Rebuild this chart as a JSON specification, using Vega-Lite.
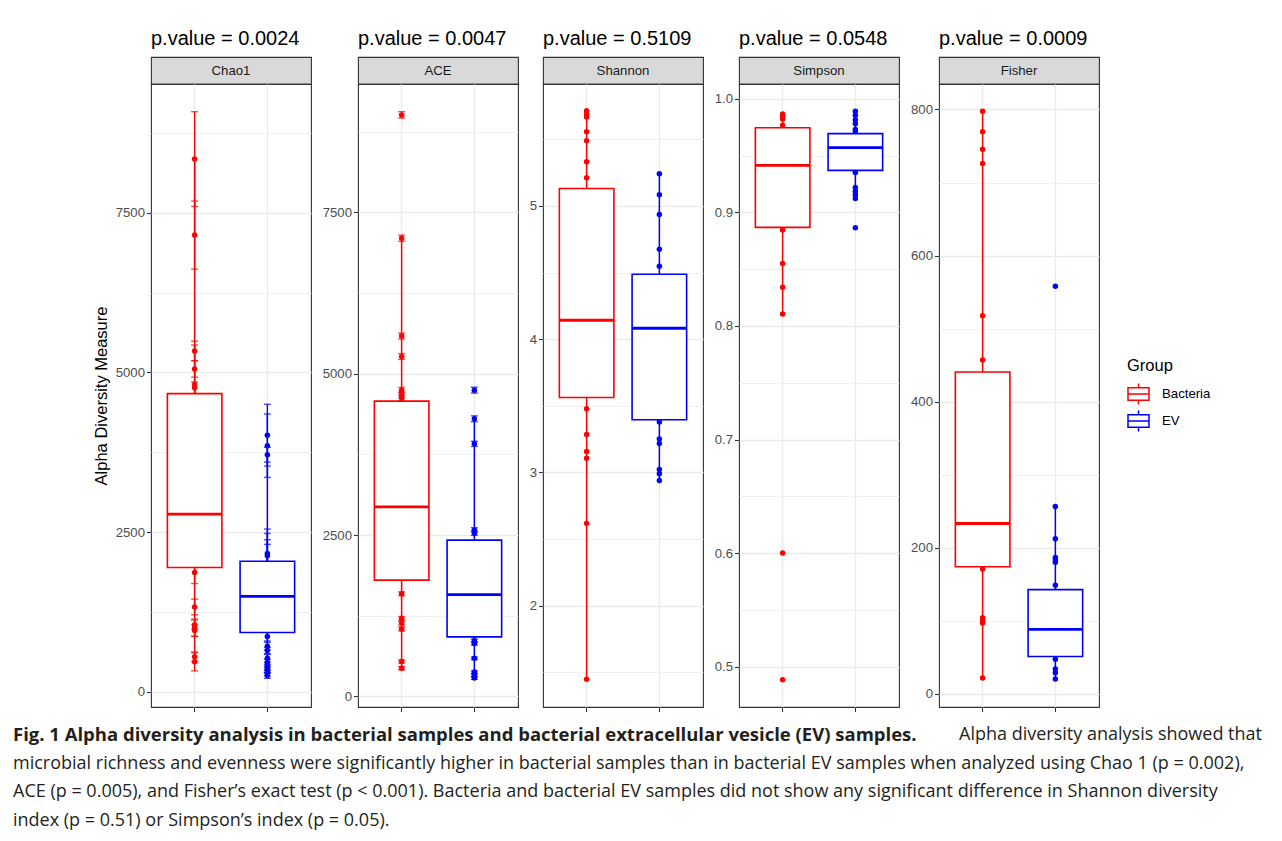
{
 "$schema": "https://vega.github.io/schema/vega-lite/v6.json",
 "padding": {"left": 13, "top": 28, "right": 5, "bottom": 5},
 "background": "#ffffff",
 "config": {
  "font": "Liberation Sans",
  "view": {"stroke": null},
  "axis": {"grid": true, "gridColor": "#ebebeb", "gridWidth": 1.4, "domain": false, "tickColor": "#333333", "tickSize": 4.5, "tickWidth": 1.1, "labelFont": "Liberation Sans", "labelFontSize": 13.2, "labelColor": "#4d4d4d", "labelPadding": 2, "labelFlush": false, "labelOverlap": false, "titleFont": "Liberation Sans", "titleFontSize": 16.5, "titleFontWeight": "normal", "titleColor": "#000000"},
  "title": {"font": "Liberation Sans", "fontSize": 20, "fontWeight": "normal", "color": "#000000", "anchor": "start", "offset": 8}
 },
 "datasets": {
  "panels": [{"index": "Chao1"}, {"index": "ACE"}, {"index": "Shannon"}, {"index": "Simpson"}, {"index": "Fisher"}],
  "box": [
   {"index": "Chao1", "group": "Bacteria", "q1": 1948, "median": 2782, "q3": 4669, "lo": 472, "hi": 8339},
   {"index": "Chao1", "group": "EV", "q1": 931, "median": 1495, "q3": 2046, "lo": 257, "hi": 3713},
   {"index": "ACE", "group": "Bacteria", "q1": 1802, "median": 2937, "q3": 4575, "lo": 437, "hi": 7100},
   {"index": "ACE", "group": "EV", "q1": 922, "median": 1578, "q3": 2421, "lo": 285, "hi": 4302},
   {"index": "Shannon", "group": "Bacteria", "q1": 3.563, "median": 4.142, "q3": 5.131, "lo": 1.449, "hi": 5.714},
   {"index": "Shannon", "group": "EV", "q1": 3.395, "median": 4.082, "q3": 4.487, "lo": 2.94, "hi": 5.241},
   {"index": "Simpson", "group": "Bacteria", "q1": 0.8868, "median": 0.9414, "q3": 0.9745, "lo": 0.8105, "hi": 0.9866},
   {"index": "Simpson", "group": "EV", "q1": 0.937, "median": 0.957, "q3": 0.9693, "lo": 0.9123, "hi": 0.989},
   {"index": "Fisher", "group": "Bacteria", "q1": 173.7, "median": 233, "q3": 440.4, "lo": 21.4, "hi": 797.6},
   {"index": "Fisher", "group": "EV", "q1": 50.8, "median": 88.1, "q3": 142.5, "lo": 20.2, "hi": 256.3}
  ],
  "pts": [
   {"index": "Chao1", "group": "Bacteria", "value": 8339, "se": 741},
   {"index": "Chao1", "group": "Bacteria", "value": 7150, "se": 533},
   {"index": "Chao1", "group": "Bacteria", "value": 5337, "se": 153},
   {"index": "Chao1", "group": "Bacteria", "value": 5055, "se": 129},
   {"index": "Chao1", "group": "Bacteria", "value": 4810, "se": 619},
   {"index": "Chao1", "group": "Bacteria", "value": 4761, "se": 90},
   {"index": "Chao1", "group": "Bacteria", "value": 1869, "se": 172},
   {"index": "Chao1", "group": "Bacteria", "value": 1330, "se": 122},
   {"index": "Chao1", "group": "Bacteria", "value": 1054, "se": 73},
   {"index": "Chao1", "group": "Bacteria", "value": 1005, "se": 135},
   {"index": "Chao1", "group": "Bacteria", "value": 962, "se": 90},
   {"index": "Chao1", "group": "Bacteria", "value": 551, "se": 74},
   {"index": "Chao1", "group": "Bacteria", "value": 472, "se": 142},
   {"index": "Chao1", "group": "EV", "value": 4019, "se": 484},
   {"index": "Chao1", "group": "EV", "value": 3854, "se": 496},
   {"index": "Chao1", "group": "EV", "value": 3713, "se": 116},
   {"index": "Chao1", "group": "EV", "value": 2169, "se": 380},
   {"index": "Chao1", "group": "EV", "value": 2132, "se": 349},
   {"index": "Chao1", "group": "EV", "value": 1900, "se": 483},
   {"index": "Chao1", "group": "EV", "value": 1800, "se": 510},
   {"index": "Chao1", "group": "EV", "value": 870, "se": 73},
   {"index": "Chao1", "group": "EV", "value": 717, "se": 60},
   {"index": "Chao1", "group": "EV", "value": 649, "se": 49},
   {"index": "Chao1", "group": "EV", "value": 527, "se": 60},
   {"index": "Chao1", "group": "EV", "value": 460, "se": 50},
   {"index": "Chao1", "group": "EV", "value": 392, "se": 40},
   {"index": "Chao1", "group": "EV", "value": 343, "se": 40},
   {"index": "Chao1", "group": "EV", "value": 294, "se": 40},
   {"index": "Chao1", "group": "EV", "value": 257, "se": 43},
   {"index": "ACE", "group": "Bacteria", "value": 9011, "se": 50},
   {"index": "ACE", "group": "Bacteria", "value": 7100, "se": 48},
   {"index": "ACE", "group": "Bacteria", "value": 5583, "se": 45},
   {"index": "ACE", "group": "Bacteria", "value": 5267, "se": 45},
   {"index": "ACE", "group": "Bacteria", "value": 4745, "se": 42},
   {"index": "ACE", "group": "Bacteria", "value": 4672, "se": 42},
   {"index": "ACE", "group": "Bacteria", "value": 4624, "se": 40},
   {"index": "ACE", "group": "Bacteria", "value": 1590, "se": 30},
   {"index": "ACE", "group": "Bacteria", "value": 1208, "se": 30},
   {"index": "ACE", "group": "Bacteria", "value": 1135, "se": 30},
   {"index": "ACE", "group": "Bacteria", "value": 1044, "se": 30},
   {"index": "ACE", "group": "Bacteria", "value": 540, "se": 25},
   {"index": "ACE", "group": "Bacteria", "value": 437, "se": 25},
   {"index": "ACE", "group": "EV", "value": 4745, "se": 45},
   {"index": "ACE", "group": "EV", "value": 4302, "se": 45},
   {"index": "ACE", "group": "EV", "value": 3914, "se": 40},
   {"index": "ACE", "group": "EV", "value": 2579, "se": 35},
   {"index": "ACE", "group": "EV", "value": 2530, "se": 35},
   {"index": "ACE", "group": "EV", "value": 862, "se": 25},
   {"index": "ACE", "group": "EV", "value": 819, "se": 25},
   {"index": "ACE", "group": "EV", "value": 589, "se": 20},
   {"index": "ACE", "group": "EV", "value": 376, "se": 20},
   {"index": "ACE", "group": "EV", "value": 328, "se": 20},
   {"index": "ACE", "group": "EV", "value": 285, "se": 20},
   {"index": "Shannon", "group": "Bacteria", "value": 5.714},
   {"index": "Shannon", "group": "Bacteria", "value": 5.69},
   {"index": "Shannon", "group": "Bacteria", "value": 5.667},
   {"index": "Shannon", "group": "Bacteria", "value": 5.556},
   {"index": "Shannon", "group": "Bacteria", "value": 5.489},
   {"index": "Shannon", "group": "Bacteria", "value": 5.332},
   {"index": "Shannon", "group": "Bacteria", "value": 5.211},
   {"index": "Shannon", "group": "Bacteria", "value": 3.479},
   {"index": "Shannon", "group": "Bacteria", "value": 3.285},
   {"index": "Shannon", "group": "Bacteria", "value": 3.157},
   {"index": "Shannon", "group": "Bacteria", "value": 3.107},
   {"index": "Shannon", "group": "Bacteria", "value": 2.618},
   {"index": "Shannon", "group": "Bacteria", "value": 1.449},
   {"index": "Shannon", "group": "EV", "value": 5.241},
   {"index": "Shannon", "group": "EV", "value": 5.084},
   {"index": "Shannon", "group": "EV", "value": 4.936},
   {"index": "Shannon", "group": "EV", "value": 4.675},
   {"index": "Shannon", "group": "EV", "value": 4.548},
   {"index": "Shannon", "group": "EV", "value": 3.379},
   {"index": "Shannon", "group": "EV", "value": 3.251},
   {"index": "Shannon", "group": "EV", "value": 3.218},
   {"index": "Shannon", "group": "EV", "value": 3.023},
   {"index": "Shannon", "group": "EV", "value": 2.99},
   {"index": "Shannon", "group": "EV", "value": 2.94},
   {"index": "Simpson", "group": "Bacteria", "value": 0.9866},
   {"index": "Simpson", "group": "Bacteria", "value": 0.9847},
   {"index": "Simpson", "group": "Bacteria", "value": 0.9823},
   {"index": "Simpson", "group": "Bacteria", "value": 0.9768},
   {"index": "Simpson", "group": "Bacteria", "value": 0.8844},
   {"index": "Simpson", "group": "Bacteria", "value": 0.855},
   {"index": "Simpson", "group": "Bacteria", "value": 0.834},
   {"index": "Simpson", "group": "Bacteria", "value": 0.8105},
   {"index": "Simpson", "group": "Bacteria", "value": 0.6002},
   {"index": "Simpson", "group": "Bacteria", "value": 0.4886},
   {"index": "Simpson", "group": "EV", "value": 0.989},
   {"index": "Simpson", "group": "EV", "value": 0.9855},
   {"index": "Simpson", "group": "EV", "value": 0.9815},
   {"index": "Simpson", "group": "EV", "value": 0.978},
   {"index": "Simpson", "group": "EV", "value": 0.973},
   {"index": "Simpson", "group": "EV", "value": 0.971},
   {"index": "Simpson", "group": "EV", "value": 0.935},
   {"index": "Simpson", "group": "EV", "value": 0.9218},
   {"index": "Simpson", "group": "EV", "value": 0.9186},
   {"index": "Simpson", "group": "EV", "value": 0.9155},
   {"index": "Simpson", "group": "EV", "value": 0.9123},
   {"index": "Simpson", "group": "EV", "value": 0.8864},
   {"index": "Fisher", "group": "Bacteria", "value": 797.6},
   {"index": "Fisher", "group": "Bacteria", "value": 769.4},
   {"index": "Fisher", "group": "Bacteria", "value": 745.6},
   {"index": "Fisher", "group": "Bacteria", "value": 726},
   {"index": "Fisher", "group": "Bacteria", "value": 517.4},
   {"index": "Fisher", "group": "Bacteria", "value": 456.9},
   {"index": "Fisher", "group": "Bacteria", "value": 170.6},
   {"index": "Fisher", "group": "Bacteria", "value": 104},
   {"index": "Fisher", "group": "Bacteria", "value": 100.3},
   {"index": "Fisher", "group": "Bacteria", "value": 96.6},
   {"index": "Fisher", "group": "Bacteria", "value": 21.4},
   {"index": "Fisher", "group": "EV", "value": 557.8},
   {"index": "Fisher", "group": "EV", "value": 256.3},
   {"index": "Fisher", "group": "EV", "value": 212.2},
   {"index": "Fisher", "group": "EV", "value": 186.5},
   {"index": "Fisher", "group": "EV", "value": 182.9},
   {"index": "Fisher", "group": "EV", "value": 179.8},
   {"index": "Fisher", "group": "EV", "value": 148.6},
   {"index": "Fisher", "group": "EV", "value": 47.1},
   {"index": "Fisher", "group": "EV", "value": 33.6},
   {"index": "Fisher", "group": "EV", "value": 28.7},
   {"index": "Fisher", "group": "EV", "value": 20.2}
  ],
  "caption": [
   {"line": 1, "part": "lead", "text": "Fig. 1 Alpha diversity analysis in bacterial samples and bacterial extracellular vesicle (EV) samples."},
   {"line": 1, "part": "tail", "text": "Alpha diversity analysis showed that"},
   {"line": 2, "part": "body", "text": "microbial richness and evenness were significantly higher in bacterial samples than in bacterial EV samples when analyzed using Chao 1 (p = 0.002),"},
   {"line": 3, "part": "body", "text": "ACE (p = 0.005), and Fisher’s exact test (p < 0.001). Bacteria and bacterial EV samples did not show any significant difference in Shannon diversity"},
   {"line": 4, "part": "body", "text": "index (p = 0.51) or Simpson’s index (p = 0.05)."}
  ]
 },
 "spacing": 8,
 "vconcat": [
  {
   "spacing": 9,
   "hconcat": [
    {"width": 70, "height": 10, "data": {"values": []}, "mark": {"type": "point"}},
    {
     "bounds": "flush", "spacing": 0,
     "vconcat": [
      {"width": 160, "height": 27, "title": {"text": "p.value = 0.0024"}, "view": {"fill": "#d9d9d9", "stroke": "#333333", "strokeWidth": 1.1}, "data": {"name": "panels"}, "transform": [{"filter": "datum.index === 'Chao1'"}], "mark": {"type": "text", "fontSize": 13.2, "color": "#1a1a1a", "font": "Liberation Sans"}, "encoding": {"text": {"field": "index", "type": "nominal"}}},
      {"width": 160, "height": 623, "view": {"stroke": "#333333", "strokeWidth": 1.1},
       "encoding": {"x": {"field": "group", "type": "nominal", "scale": {"type": "band", "domain": ["Bacteria", "EV"], "paddingInner": 0.25, "paddingOuter": 0.225}, "axis": {"title": null, "labels": false, "ticks": true, "grid": true, "domain": false, "orient": "bottom"}}},
       "layer": [
        {"data": {"name": "box"}, "transform": [{"filter": "datum.index === 'Chao1'"}], "mark": {"type": "rule", "strokeWidth": 1.5},
         "encoding": {"y": {"field": "lo", "type": "quantitative", "scale": {"domain": [-235, 9514], "nice": false, "zero": false}, "axis": {"title": "Alpha Diversity Measure", "titlePadding": 6, "values": [0, 1250, 2500, 3750, 5000, 6250, 7500, 8750], "format": "d", "labelExpr": "datum.value % 2500 === 0 ? datum.label : ''", "gridWidth": {"condition": {"test": "datum.value % 2500 !== 0", "value": 0.7}, "value": 1.4}, "tickOpacity": {"condition": {"test": "datum.value % 2500 !== 0", "value": 0}, "value": 1}}},
          "y2": {"field": "hi"},
          "stroke": {"field": "group", "type": "nominal", "scale": {"domain": ["Bacteria", "EV"], "range": ["#ff0000", "#0000ff"]}, "legend": {"title": "Group", "orient": "none", "legendX": 1114, "legendY": 301, "symbolType": "M-1,-0.6H1V0.6H-1Z M-1,0H1 M0,-0.6V-1 M0,0.6V1", "symbolSize": 441, "symbolStrokeWidth": 1.5, "symbolFillColor": "#ffffff", "labelFont": "Liberation Sans", "labelFontSize": 13.2, "labelColor": "#000000", "labelOffset": 12, "titleFont": "Liberation Sans", "titleFontSize": 16.5, "titleFontWeight": "normal", "titleColor": "#000000", "titlePadding": 8, "rowPadding": 0, "padding": 0}}}},
        {"data": {"name": "pts"}, "transform": [{"filter": "datum.index === 'Chao1' && datum.group === 'Bacteria'"}], "mark": {"type": "errorbar", "ticks": {"size": 7}, "thickness": 1.4, "color": "#ff0000"},
         "encoding": {"y": {"field": "value", "type": "quantitative", "scale": {"domain": [-235, 9514], "nice": false, "zero": false}, "axis": {"title": "Alpha Diversity Measure", "titlePadding": 6, "values": [0, 1250, 2500, 3750, 5000, 6250, 7500, 8750], "format": "d", "labelExpr": "datum.value % 2500 === 0 ? datum.label : ''", "gridWidth": {"condition": {"test": "datum.value % 2500 !== 0", "value": 0.7}, "value": 1.4}, "tickOpacity": {"condition": {"test": "datum.value % 2500 !== 0", "value": 0}, "value": 1}}}, "yError": {"field": "se"}}},
        {"data": {"name": "pts"}, "transform": [{"filter": "datum.index === 'Chao1' && datum.group === 'EV'"}], "mark": {"type": "errorbar", "ticks": {"size": 7}, "thickness": 1.4, "color": "#0000ff"},
         "encoding": {"y": {"field": "value", "type": "quantitative", "scale": {"domain": [-235, 9514], "nice": false, "zero": false}, "axis": {"title": "Alpha Diversity Measure", "titlePadding": 6, "values": [0, 1250, 2500, 3750, 5000, 6250, 7500, 8750], "format": "d", "labelExpr": "datum.value % 2500 === 0 ? datum.label : ''", "gridWidth": {"condition": {"test": "datum.value % 2500 !== 0", "value": 0.7}, "value": 1.4}, "tickOpacity": {"condition": {"test": "datum.value % 2500 !== 0", "value": 0}, "value": 1}}}, "yError": {"field": "se"}}},
        {"data": {"name": "pts"}, "transform": [{"filter": "datum.index === 'Chao1' && datum.group === 'Bacteria'"}], "mark": {"type": "circle", "size": 30, "opacity": 1, "color": "#ff0000"},
         "encoding": {"y": {"field": "value", "type": "quantitative", "scale": {"domain": [-235, 9514], "nice": false, "zero": false}, "axis": {"title": "Alpha Diversity Measure", "titlePadding": 6, "values": [0, 1250, 2500, 3750, 5000, 6250, 7500, 8750], "format": "d", "labelExpr": "datum.value % 2500 === 0 ? datum.label : ''", "gridWidth": {"condition": {"test": "datum.value % 2500 !== 0", "value": 0.7}, "value": 1.4}, "tickOpacity": {"condition": {"test": "datum.value % 2500 !== 0", "value": 0}, "value": 1}}}}},
        {"data": {"name": "pts"}, "transform": [{"filter": "datum.index === 'Chao1' && datum.group === 'EV'"}], "mark": {"type": "circle", "size": 30, "opacity": 1, "color": "#0000ff"},
         "encoding": {"y": {"field": "value", "type": "quantitative", "scale": {"domain": [-235, 9514], "nice": false, "zero": false}, "axis": {"title": "Alpha Diversity Measure", "titlePadding": 6, "values": [0, 1250, 2500, 3750, 5000, 6250, 7500, 8750], "format": "d", "labelExpr": "datum.value % 2500 === 0 ? datum.label : ''", "gridWidth": {"condition": {"test": "datum.value % 2500 !== 0", "value": 0.7}, "value": 1.4}, "tickOpacity": {"condition": {"test": "datum.value % 2500 !== 0", "value": 0}, "value": 1}}}}},
        {"data": {"name": "box"}, "transform": [{"filter": "datum.index === 'Chao1'"}], "mark": {"type": "bar", "fill": "#ffffff", "strokeWidth": 1.6},
         "encoding": {"y": {"field": "q3", "type": "quantitative", "scale": {"domain": [-235, 9514], "nice": false, "zero": false}, "axis": {"title": "Alpha Diversity Measure", "titlePadding": 6, "values": [0, 1250, 2500, 3750, 5000, 6250, 7500, 8750], "format": "d", "labelExpr": "datum.value % 2500 === 0 ? datum.label : ''", "gridWidth": {"condition": {"test": "datum.value % 2500 !== 0", "value": 0.7}, "value": 1.4}, "tickOpacity": {"condition": {"test": "datum.value % 2500 !== 0", "value": 0}, "value": 1}}},
          "y2": {"field": "q1"},
          "stroke": {"field": "group", "type": "nominal", "scale": {"domain": ["Bacteria", "EV"], "range": ["#ff0000", "#0000ff"]}, "legend": null}}},
        {"data": {"name": "box"}, "transform": [{"filter": "datum.index === 'Chao1'"}], "mark": {"type": "bar", "fill": "#ffffff", "strokeWidth": 2.8},
         "encoding": {"y": {"field": "median", "type": "quantitative", "scale": {"domain": [-235, 9514], "nice": false, "zero": false}, "axis": {"title": "Alpha Diversity Measure", "titlePadding": 6, "values": [0, 1250, 2500, 3750, 5000, 6250, 7500, 8750], "format": "d", "labelExpr": "datum.value % 2500 === 0 ? datum.label : ''", "gridWidth": {"condition": {"test": "datum.value % 2500 !== 0", "value": 0.7}, "value": 1.4}, "tickOpacity": {"condition": {"test": "datum.value % 2500 !== 0", "value": 0}, "value": 1}}},
          "y2": {"field": "median"},
          "stroke": {"field": "group", "type": "nominal", "scale": {"domain": ["Bacteria", "EV"], "range": ["#ff0000", "#0000ff"]}, "legend": null}}}
       ]}
     ]
    },
    {
     "bounds": "flush", "spacing": 0,
     "vconcat": [
      {"width": 160, "height": 27, "title": {"text": "p.value = 0.0047"}, "view": {"fill": "#d9d9d9", "stroke": "#333333", "strokeWidth": 1.1}, "data": {"name": "panels"}, "transform": [{"filter": "datum.index === 'ACE'"}], "mark": {"type": "text", "fontSize": 13.2, "color": "#1a1a1a", "font": "Liberation Sans"}, "encoding": {"text": {"field": "index", "type": "nominal"}}},
      {"width": 160, "height": 623, "view": {"stroke": "#333333", "strokeWidth": 1.1},
       "encoding": {"x": {"field": "group", "type": "nominal", "scale": {"type": "band", "domain": ["Bacteria", "EV"], "paddingInner": 0.25, "paddingOuter": 0.225}, "axis": {"title": null, "labels": false, "ticks": true, "grid": true, "domain": false, "orient": "bottom"}}},
       "layer": [
        {"data": {"name": "box"}, "transform": [{"filter": "datum.index === 'ACE'"}], "mark": {"type": "rule", "strokeWidth": 1.5},
         "encoding": {"y": {"field": "lo", "type": "quantitative", "scale": {"domain": [-165, 9490], "nice": false, "zero": false}, "axis": {"title": null, "values": [0, 1250, 2500, 3750, 5000, 6250, 7500, 8750], "format": "d", "labelExpr": "datum.value % 2500 === 0 ? datum.label : ''", "gridWidth": {"condition": {"test": "datum.value % 2500 !== 0", "value": 0.7}, "value": 1.4}, "tickOpacity": {"condition": {"test": "datum.value % 2500 !== 0", "value": 0}, "value": 1}}},
          "y2": {"field": "hi"},
          "stroke": {"field": "group", "type": "nominal", "scale": {"domain": ["Bacteria", "EV"], "range": ["#ff0000", "#0000ff"]}, "legend": {"title": "Group", "orient": "none", "legendX": 1114, "legendY": 301, "symbolType": "M-1,-0.6H1V0.6H-1Z M-1,0H1 M0,-0.6V-1 M0,0.6V1", "symbolSize": 441, "symbolStrokeWidth": 1.5, "symbolFillColor": "#ffffff", "labelFont": "Liberation Sans", "labelFontSize": 13.2, "labelColor": "#000000", "labelOffset": 12, "titleFont": "Liberation Sans", "titleFontSize": 16.5, "titleFontWeight": "normal", "titleColor": "#000000", "titlePadding": 8, "rowPadding": 0, "padding": 0}}}},
        {"data": {"name": "pts"}, "transform": [{"filter": "datum.index === 'ACE' && datum.group === 'Bacteria'"}], "mark": {"type": "errorbar", "ticks": {"size": 7}, "thickness": 1.4, "color": "#ff0000"},
         "encoding": {"y": {"field": "value", "type": "quantitative", "scale": {"domain": [-165, 9490], "nice": false, "zero": false}, "axis": {"title": null, "values": [0, 1250, 2500, 3750, 5000, 6250, 7500, 8750], "format": "d", "labelExpr": "datum.value % 2500 === 0 ? datum.label : ''", "gridWidth": {"condition": {"test": "datum.value % 2500 !== 0", "value": 0.7}, "value": 1.4}, "tickOpacity": {"condition": {"test": "datum.value % 2500 !== 0", "value": 0}, "value": 1}}}, "yError": {"field": "se"}}},
        {"data": {"name": "pts"}, "transform": [{"filter": "datum.index === 'ACE' && datum.group === 'EV'"}], "mark": {"type": "errorbar", "ticks": {"size": 7}, "thickness": 1.4, "color": "#0000ff"},
         "encoding": {"y": {"field": "value", "type": "quantitative", "scale": {"domain": [-165, 9490], "nice": false, "zero": false}, "axis": {"title": null, "values": [0, 1250, 2500, 3750, 5000, 6250, 7500, 8750], "format": "d", "labelExpr": "datum.value % 2500 === 0 ? datum.label : ''", "gridWidth": {"condition": {"test": "datum.value % 2500 !== 0", "value": 0.7}, "value": 1.4}, "tickOpacity": {"condition": {"test": "datum.value % 2500 !== 0", "value": 0}, "value": 1}}}, "yError": {"field": "se"}}},
        {"data": {"name": "pts"}, "transform": [{"filter": "datum.index === 'ACE' && datum.group === 'Bacteria'"}], "mark": {"type": "circle", "size": 30, "opacity": 1, "color": "#ff0000"},
         "encoding": {"y": {"field": "value", "type": "quantitative", "scale": {"domain": [-165, 9490], "nice": false, "zero": false}, "axis": {"title": null, "values": [0, 1250, 2500, 3750, 5000, 6250, 7500, 8750], "format": "d", "labelExpr": "datum.value % 2500 === 0 ? datum.label : ''", "gridWidth": {"condition": {"test": "datum.value % 2500 !== 0", "value": 0.7}, "value": 1.4}, "tickOpacity": {"condition": {"test": "datum.value % 2500 !== 0", "value": 0}, "value": 1}}}}},
        {"data": {"name": "pts"}, "transform": [{"filter": "datum.index === 'ACE' && datum.group === 'EV'"}], "mark": {"type": "circle", "size": 30, "opacity": 1, "color": "#0000ff"},
         "encoding": {"y": {"field": "value", "type": "quantitative", "scale": {"domain": [-165, 9490], "nice": false, "zero": false}, "axis": {"title": null, "values": [0, 1250, 2500, 3750, 5000, 6250, 7500, 8750], "format": "d", "labelExpr": "datum.value % 2500 === 0 ? datum.label : ''", "gridWidth": {"condition": {"test": "datum.value % 2500 !== 0", "value": 0.7}, "value": 1.4}, "tickOpacity": {"condition": {"test": "datum.value % 2500 !== 0", "value": 0}, "value": 1}}}}},
        {"data": {"name": "box"}, "transform": [{"filter": "datum.index === 'ACE'"}], "mark": {"type": "bar", "fill": "#ffffff", "strokeWidth": 1.6},
         "encoding": {"y": {"field": "q3", "type": "quantitative", "scale": {"domain": [-165, 9490], "nice": false, "zero": false}, "axis": {"title": null, "values": [0, 1250, 2500, 3750, 5000, 6250, 7500, 8750], "format": "d", "labelExpr": "datum.value % 2500 === 0 ? datum.label : ''", "gridWidth": {"condition": {"test": "datum.value % 2500 !== 0", "value": 0.7}, "value": 1.4}, "tickOpacity": {"condition": {"test": "datum.value % 2500 !== 0", "value": 0}, "value": 1}}},
          "y2": {"field": "q1"},
          "stroke": {"field": "group", "type": "nominal", "scale": {"domain": ["Bacteria", "EV"], "range": ["#ff0000", "#0000ff"]}, "legend": null}}},
        {"data": {"name": "box"}, "transform": [{"filter": "datum.index === 'ACE'"}], "mark": {"type": "bar", "fill": "#ffffff", "strokeWidth": 2.8},
         "encoding": {"y": {"field": "median", "type": "quantitative", "scale": {"domain": [-165, 9490], "nice": false, "zero": false}, "axis": {"title": null, "values": [0, 1250, 2500, 3750, 5000, 6250, 7500, 8750], "format": "d", "labelExpr": "datum.value % 2500 === 0 ? datum.label : ''", "gridWidth": {"condition": {"test": "datum.value % 2500 !== 0", "value": 0.7}, "value": 1.4}, "tickOpacity": {"condition": {"test": "datum.value % 2500 !== 0", "value": 0}, "value": 1}}},
          "y2": {"field": "median"},
          "stroke": {"field": "group", "type": "nominal", "scale": {"domain": ["Bacteria", "EV"], "range": ["#ff0000", "#0000ff"]}, "legend": null}}}
       ]}
     ]
    },
    {
     "bounds": "flush", "spacing": 0,
     "vconcat": [
      {"width": 160, "height": 27, "title": {"text": "p.value = 0.5109"}, "view": {"fill": "#d9d9d9", "stroke": "#333333", "strokeWidth": 1.1}, "data": {"name": "panels"}, "transform": [{"filter": "datum.index === 'Shannon'"}], "mark": {"type": "text", "fontSize": 13.2, "color": "#1a1a1a", "font": "Liberation Sans"}, "encoding": {"text": {"field": "index", "type": "nominal"}}},
      {"width": 160, "height": 623, "view": {"stroke": "#333333", "strokeWidth": 1.1},
       "encoding": {"x": {"field": "group", "type": "nominal", "scale": {"type": "band", "domain": ["Bacteria", "EV"], "paddingInner": 0.25, "paddingOuter": 0.225}, "axis": {"title": null, "labels": false, "ticks": true, "grid": true, "domain": false, "orient": "bottom"}}},
       "layer": [
        {"data": {"name": "box"}, "transform": [{"filter": "datum.index === 'Shannon'"}], "mark": {"type": "rule", "strokeWidth": 1.5},
         "encoding": {"y": {"field": "lo", "type": "quantitative", "scale": {"domain": [1.24, 5.915], "nice": false, "zero": false}, "axis": {"title": null, "values": [1.5, 2, 2.5, 3, 3.5, 4, 4.5, 5, 5.5], "format": ".0f", "labelExpr": "datum.value % 1 === 0 ? datum.label : ''", "gridWidth": {"condition": {"test": "datum.value % 1 !== 0", "value": 0.7}, "value": 1.4}, "tickOpacity": {"condition": {"test": "datum.value % 1 !== 0", "value": 0}, "value": 1}}},
          "y2": {"field": "hi"},
          "stroke": {"field": "group", "type": "nominal", "scale": {"domain": ["Bacteria", "EV"], "range": ["#ff0000", "#0000ff"]}, "legend": {"title": "Group", "orient": "none", "legendX": 1114, "legendY": 301, "symbolType": "M-1,-0.6H1V0.6H-1Z M-1,0H1 M0,-0.6V-1 M0,0.6V1", "symbolSize": 441, "symbolStrokeWidth": 1.5, "symbolFillColor": "#ffffff", "labelFont": "Liberation Sans", "labelFontSize": 13.2, "labelColor": "#000000", "labelOffset": 12, "titleFont": "Liberation Sans", "titleFontSize": 16.5, "titleFontWeight": "normal", "titleColor": "#000000", "titlePadding": 8, "rowPadding": 0, "padding": 0}}}},
        {"data": {"name": "pts"}, "transform": [{"filter": "datum.index === 'Shannon' && datum.group === 'Bacteria'"}], "mark": {"type": "circle", "size": 30, "opacity": 1, "color": "#ff0000"},
         "encoding": {"y": {"field": "value", "type": "quantitative", "scale": {"domain": [1.24, 5.915], "nice": false, "zero": false}, "axis": {"title": null, "values": [1.5, 2, 2.5, 3, 3.5, 4, 4.5, 5, 5.5], "format": ".0f", "labelExpr": "datum.value % 1 === 0 ? datum.label : ''", "gridWidth": {"condition": {"test": "datum.value % 1 !== 0", "value": 0.7}, "value": 1.4}, "tickOpacity": {"condition": {"test": "datum.value % 1 !== 0", "value": 0}, "value": 1}}}}},
        {"data": {"name": "pts"}, "transform": [{"filter": "datum.index === 'Shannon' && datum.group === 'EV'"}], "mark": {"type": "circle", "size": 30, "opacity": 1, "color": "#0000ff"},
         "encoding": {"y": {"field": "value", "type": "quantitative", "scale": {"domain": [1.24, 5.915], "nice": false, "zero": false}, "axis": {"title": null, "values": [1.5, 2, 2.5, 3, 3.5, 4, 4.5, 5, 5.5], "format": ".0f", "labelExpr": "datum.value % 1 === 0 ? datum.label : ''", "gridWidth": {"condition": {"test": "datum.value % 1 !== 0", "value": 0.7}, "value": 1.4}, "tickOpacity": {"condition": {"test": "datum.value % 1 !== 0", "value": 0}, "value": 1}}}}},
        {"data": {"name": "box"}, "transform": [{"filter": "datum.index === 'Shannon'"}], "mark": {"type": "bar", "fill": "#ffffff", "strokeWidth": 1.6},
         "encoding": {"y": {"field": "q3", "type": "quantitative", "scale": {"domain": [1.24, 5.915], "nice": false, "zero": false}, "axis": {"title": null, "values": [1.5, 2, 2.5, 3, 3.5, 4, 4.5, 5, 5.5], "format": ".0f", "labelExpr": "datum.value % 1 === 0 ? datum.label : ''", "gridWidth": {"condition": {"test": "datum.value % 1 !== 0", "value": 0.7}, "value": 1.4}, "tickOpacity": {"condition": {"test": "datum.value % 1 !== 0", "value": 0}, "value": 1}}},
          "y2": {"field": "q1"},
          "stroke": {"field": "group", "type": "nominal", "scale": {"domain": ["Bacteria", "EV"], "range": ["#ff0000", "#0000ff"]}, "legend": null}}},
        {"data": {"name": "box"}, "transform": [{"filter": "datum.index === 'Shannon'"}], "mark": {"type": "bar", "fill": "#ffffff", "strokeWidth": 2.8},
         "encoding": {"y": {"field": "median", "type": "quantitative", "scale": {"domain": [1.24, 5.915], "nice": false, "zero": false}, "axis": {"title": null, "values": [1.5, 2, 2.5, 3, 3.5, 4, 4.5, 5, 5.5], "format": ".0f", "labelExpr": "datum.value % 1 === 0 ? datum.label : ''", "gridWidth": {"condition": {"test": "datum.value % 1 !== 0", "value": 0.7}, "value": 1.4}, "tickOpacity": {"condition": {"test": "datum.value % 1 !== 0", "value": 0}, "value": 1}}},
          "y2": {"field": "median"},
          "stroke": {"field": "group", "type": "nominal", "scale": {"domain": ["Bacteria", "EV"], "range": ["#ff0000", "#0000ff"]}, "legend": null}}}
       ]}
     ]
    },
    {
     "bounds": "flush", "spacing": 0,
     "vconcat": [
      {"width": 160, "height": 27, "title": {"text": "p.value = 0.0548"}, "view": {"fill": "#d9d9d9", "stroke": "#333333", "strokeWidth": 1.1}, "data": {"name": "panels"}, "transform": [{"filter": "datum.index === 'Simpson'"}], "mark": {"type": "text", "fontSize": 13.2, "color": "#1a1a1a", "font": "Liberation Sans"}, "encoding": {"text": {"field": "index", "type": "nominal"}}},
      {"width": 160, "height": 623, "view": {"stroke": "#333333", "strokeWidth": 1.1},
       "encoding": {"x": {"field": "group", "type": "nominal", "scale": {"type": "band", "domain": ["Bacteria", "EV"], "paddingInner": 0.25, "paddingOuter": 0.225}, "axis": {"title": null, "labels": false, "ticks": true, "grid": true, "domain": false, "orient": "bottom"}}},
       "layer": [
        {"data": {"name": "box"}, "transform": [{"filter": "datum.index === 'Simpson'"}], "mark": {"type": "rule", "strokeWidth": 1.5},
         "encoding": {"y": {"field": "lo", "type": "quantitative", "scale": {"domain": [0.4646, 1.013], "nice": false, "zero": false}, "axis": {"title": null, "values": [0.5, 0.55, 0.6, 0.65, 0.7, 0.75, 0.8, 0.85, 0.9, 0.95, 1.0], "format": ".1f", "labelExpr": "abs(datum.value * 10 - round(datum.value * 10)) < 0.01 ? datum.label : ''", "gridWidth": {"condition": {"test": "abs(datum.value * 10 - round(datum.value * 10)) > 0.01", "value": 0.7}, "value": 1.4}, "tickOpacity": {"condition": {"test": "abs(datum.value * 10 - round(datum.value * 10)) > 0.01", "value": 0}, "value": 1}}},
          "y2": {"field": "hi"},
          "stroke": {"field": "group", "type": "nominal", "scale": {"domain": ["Bacteria", "EV"], "range": ["#ff0000", "#0000ff"]}, "legend": {"title": "Group", "orient": "none", "legendX": 1114, "legendY": 301, "symbolType": "M-1,-0.6H1V0.6H-1Z M-1,0H1 M0,-0.6V-1 M0,0.6V1", "symbolSize": 441, "symbolStrokeWidth": 1.5, "symbolFillColor": "#ffffff", "labelFont": "Liberation Sans", "labelFontSize": 13.2, "labelColor": "#000000", "labelOffset": 12, "titleFont": "Liberation Sans", "titleFontSize": 16.5, "titleFontWeight": "normal", "titleColor": "#000000", "titlePadding": 8, "rowPadding": 0, "padding": 0}}}},
        {"data": {"name": "pts"}, "transform": [{"filter": "datum.index === 'Simpson' && datum.group === 'Bacteria'"}], "mark": {"type": "circle", "size": 30, "opacity": 1, "color": "#ff0000"},
         "encoding": {"y": {"field": "value", "type": "quantitative", "scale": {"domain": [0.4646, 1.013], "nice": false, "zero": false}, "axis": {"title": null, "values": [0.5, 0.55, 0.6, 0.65, 0.7, 0.75, 0.8, 0.85, 0.9, 0.95, 1.0], "format": ".1f", "labelExpr": "abs(datum.value * 10 - round(datum.value * 10)) < 0.01 ? datum.label : ''", "gridWidth": {"condition": {"test": "abs(datum.value * 10 - round(datum.value * 10)) > 0.01", "value": 0.7}, "value": 1.4}, "tickOpacity": {"condition": {"test": "abs(datum.value * 10 - round(datum.value * 10)) > 0.01", "value": 0}, "value": 1}}}}},
        {"data": {"name": "pts"}, "transform": [{"filter": "datum.index === 'Simpson' && datum.group === 'EV'"}], "mark": {"type": "circle", "size": 30, "opacity": 1, "color": "#0000ff"},
         "encoding": {"y": {"field": "value", "type": "quantitative", "scale": {"domain": [0.4646, 1.013], "nice": false, "zero": false}, "axis": {"title": null, "values": [0.5, 0.55, 0.6, 0.65, 0.7, 0.75, 0.8, 0.85, 0.9, 0.95, 1.0], "format": ".1f", "labelExpr": "abs(datum.value * 10 - round(datum.value * 10)) < 0.01 ? datum.label : ''", "gridWidth": {"condition": {"test": "abs(datum.value * 10 - round(datum.value * 10)) > 0.01", "value": 0.7}, "value": 1.4}, "tickOpacity": {"condition": {"test": "abs(datum.value * 10 - round(datum.value * 10)) > 0.01", "value": 0}, "value": 1}}}}},
        {"data": {"name": "box"}, "transform": [{"filter": "datum.index === 'Simpson'"}], "mark": {"type": "bar", "fill": "#ffffff", "strokeWidth": 1.6},
         "encoding": {"y": {"field": "q3", "type": "quantitative", "scale": {"domain": [0.4646, 1.013], "nice": false, "zero": false}, "axis": {"title": null, "values": [0.5, 0.55, 0.6, 0.65, 0.7, 0.75, 0.8, 0.85, 0.9, 0.95, 1.0], "format": ".1f", "labelExpr": "abs(datum.value * 10 - round(datum.value * 10)) < 0.01 ? datum.label : ''", "gridWidth": {"condition": {"test": "abs(datum.value * 10 - round(datum.value * 10)) > 0.01", "value": 0.7}, "value": 1.4}, "tickOpacity": {"condition": {"test": "abs(datum.value * 10 - round(datum.value * 10)) > 0.01", "value": 0}, "value": 1}}},
          "y2": {"field": "q1"},
          "stroke": {"field": "group", "type": "nominal", "scale": {"domain": ["Bacteria", "EV"], "range": ["#ff0000", "#0000ff"]}, "legend": null}}},
        {"data": {"name": "box"}, "transform": [{"filter": "datum.index === 'Simpson'"}], "mark": {"type": "bar", "fill": "#ffffff", "strokeWidth": 2.8},
         "encoding": {"y": {"field": "median", "type": "quantitative", "scale": {"domain": [0.4646, 1.013], "nice": false, "zero": false}, "axis": {"title": null, "values": [0.5, 0.55, 0.6, 0.65, 0.7, 0.75, 0.8, 0.85, 0.9, 0.95, 1.0], "format": ".1f", "labelExpr": "abs(datum.value * 10 - round(datum.value * 10)) < 0.01 ? datum.label : ''", "gridWidth": {"condition": {"test": "abs(datum.value * 10 - round(datum.value * 10)) > 0.01", "value": 0.7}, "value": 1.4}, "tickOpacity": {"condition": {"test": "abs(datum.value * 10 - round(datum.value * 10)) > 0.01", "value": 0}, "value": 1}}},
          "y2": {"field": "median"},
          "stroke": {"field": "group", "type": "nominal", "scale": {"domain": ["Bacteria", "EV"], "range": ["#ff0000", "#0000ff"]}, "legend": null}}}
       ]}
     ]
    },
    {
     "bounds": "flush", "spacing": 0,
     "vconcat": [
      {"width": 160, "height": 27, "title": {"text": "p.value = 0.0009"}, "view": {"fill": "#d9d9d9", "stroke": "#333333", "strokeWidth": 1.1}, "data": {"name": "panels"}, "transform": [{"filter": "datum.index === 'Fisher'"}], "mark": {"type": "text", "fontSize": 13.2, "color": "#1a1a1a", "font": "Liberation Sans"}, "encoding": {"text": {"field": "index", "type": "nominal"}}},
      {"width": 160, "height": 623, "view": {"stroke": "#333333", "strokeWidth": 1.1},
       "encoding": {"x": {"field": "group", "type": "nominal", "scale": {"type": "band", "domain": ["Bacteria", "EV"], "paddingInner": 0.25, "paddingOuter": 0.225}, "axis": {"title": null, "labels": false, "ticks": true, "grid": true, "domain": false, "orient": "bottom"}}},
       "layer": [
        {"data": {"name": "box"}, "transform": [{"filter": "datum.index === 'Fisher'"}], "mark": {"type": "rule", "strokeWidth": 1.5},
         "encoding": {"y": {"field": "lo", "type": "quantitative", "scale": {"domain": [-18.3, 834.9], "nice": false, "zero": false}, "axis": {"title": null, "values": [0, 100, 200, 300, 400, 500, 600, 700, 800], "format": "d", "labelExpr": "datum.value % 200 === 0 ? datum.label : ''", "gridWidth": {"condition": {"test": "datum.value % 200 !== 0", "value": 0.7}, "value": 1.4}, "tickOpacity": {"condition": {"test": "datum.value % 200 !== 0", "value": 0}, "value": 1}}},
          "y2": {"field": "hi"},
          "stroke": {"field": "group", "type": "nominal", "scale": {"domain": ["Bacteria", "EV"], "range": ["#ff0000", "#0000ff"]}, "legend": {"title": "Group", "orient": "none", "legendX": 1114, "legendY": 301, "symbolType": "M-1,-0.6H1V0.6H-1Z M-1,0H1 M0,-0.6V-1 M0,0.6V1", "symbolSize": 441, "symbolStrokeWidth": 1.5, "symbolFillColor": "#ffffff", "labelFont": "Liberation Sans", "labelFontSize": 13.2, "labelColor": "#000000", "labelOffset": 12, "titleFont": "Liberation Sans", "titleFontSize": 16.5, "titleFontWeight": "normal", "titleColor": "#000000", "titlePadding": 8, "rowPadding": 0, "padding": 0}}}},
        {"data": {"name": "pts"}, "transform": [{"filter": "datum.index === 'Fisher' && datum.group === 'Bacteria'"}], "mark": {"type": "circle", "size": 30, "opacity": 1, "color": "#ff0000"},
         "encoding": {"y": {"field": "value", "type": "quantitative", "scale": {"domain": [-18.3, 834.9], "nice": false, "zero": false}, "axis": {"title": null, "values": [0, 100, 200, 300, 400, 500, 600, 700, 800], "format": "d", "labelExpr": "datum.value % 200 === 0 ? datum.label : ''", "gridWidth": {"condition": {"test": "datum.value % 200 !== 0", "value": 0.7}, "value": 1.4}, "tickOpacity": {"condition": {"test": "datum.value % 200 !== 0", "value": 0}, "value": 1}}}}},
        {"data": {"name": "pts"}, "transform": [{"filter": "datum.index === 'Fisher' && datum.group === 'EV'"}], "mark": {"type": "circle", "size": 30, "opacity": 1, "color": "#0000ff"},
         "encoding": {"y": {"field": "value", "type": "quantitative", "scale": {"domain": [-18.3, 834.9], "nice": false, "zero": false}, "axis": {"title": null, "values": [0, 100, 200, 300, 400, 500, 600, 700, 800], "format": "d", "labelExpr": "datum.value % 200 === 0 ? datum.label : ''", "gridWidth": {"condition": {"test": "datum.value % 200 !== 0", "value": 0.7}, "value": 1.4}, "tickOpacity": {"condition": {"test": "datum.value % 200 !== 0", "value": 0}, "value": 1}}}}},
        {"data": {"name": "box"}, "transform": [{"filter": "datum.index === 'Fisher'"}], "mark": {"type": "bar", "fill": "#ffffff", "strokeWidth": 1.6},
         "encoding": {"y": {"field": "q3", "type": "quantitative", "scale": {"domain": [-18.3, 834.9], "nice": false, "zero": false}, "axis": {"title": null, "values": [0, 100, 200, 300, 400, 500, 600, 700, 800], "format": "d", "labelExpr": "datum.value % 200 === 0 ? datum.label : ''", "gridWidth": {"condition": {"test": "datum.value % 200 !== 0", "value": 0.7}, "value": 1.4}, "tickOpacity": {"condition": {"test": "datum.value % 200 !== 0", "value": 0}, "value": 1}}},
          "y2": {"field": "q1"},
          "stroke": {"field": "group", "type": "nominal", "scale": {"domain": ["Bacteria", "EV"], "range": ["#ff0000", "#0000ff"]}, "legend": null}}},
        {"data": {"name": "box"}, "transform": [{"filter": "datum.index === 'Fisher'"}], "mark": {"type": "bar", "fill": "#ffffff", "strokeWidth": 2.8},
         "encoding": {"y": {"field": "median", "type": "quantitative", "scale": {"domain": [-18.3, 834.9], "nice": false, "zero": false}, "axis": {"title": null, "values": [0, 100, 200, 300, 400, 500, 600, 700, 800], "format": "d", "labelExpr": "datum.value % 200 === 0 ? datum.label : ''", "gridWidth": {"condition": {"test": "datum.value % 200 !== 0", "value": 0.7}, "value": 1.4}, "tickOpacity": {"condition": {"test": "datum.value % 200 !== 0", "value": 0}, "value": 1}}},
          "y2": {"field": "median"},
          "stroke": {"field": "group", "type": "nominal", "scale": {"domain": ["Bacteria", "EV"], "range": ["#ff0000", "#0000ff"]}, "legend": null}}}
       ]}
     ]
    }
   ]
  },
  {
   "width": 1249, "height": 114,
   "data": {"name": "caption"},
   "encoding": {"y": {"field": "line", "type": "ordinal", "scale": {"type": "point", "padding": 0.5}, "axis": null}},
   "layer": [
    {"transform": [{"filter": "datum.part === 'lead'"}], "mark": {"type": "text", "align": "left", "baseline": "middle", "font": "Open Sans", "fontSize": 18.5, "fontWeight": "bold", "color": "#231f20"}, "encoding": {"x": {"value": 0}, "text": {"field": "text", "type": "nominal"}}},
    {"transform": [{"filter": "datum.part === 'tail'"}], "mark": {"type": "text", "align": "right", "baseline": "middle", "font": "Open Sans", "fontSize": 18, "color": "#231f20"}, "encoding": {"x": {"value": "width"}, "text": {"field": "text", "type": "nominal"}}},
    {"transform": [{"filter": "datum.part === 'body'"}], "mark": {"type": "text", "align": "left", "baseline": "middle", "font": "Open Sans", "fontSize": 18, "color": "#231f20"}, "encoding": {"x": {"value": 0}, "text": {"field": "text", "type": "nominal"}}}
   ]
  }
 ]
}
